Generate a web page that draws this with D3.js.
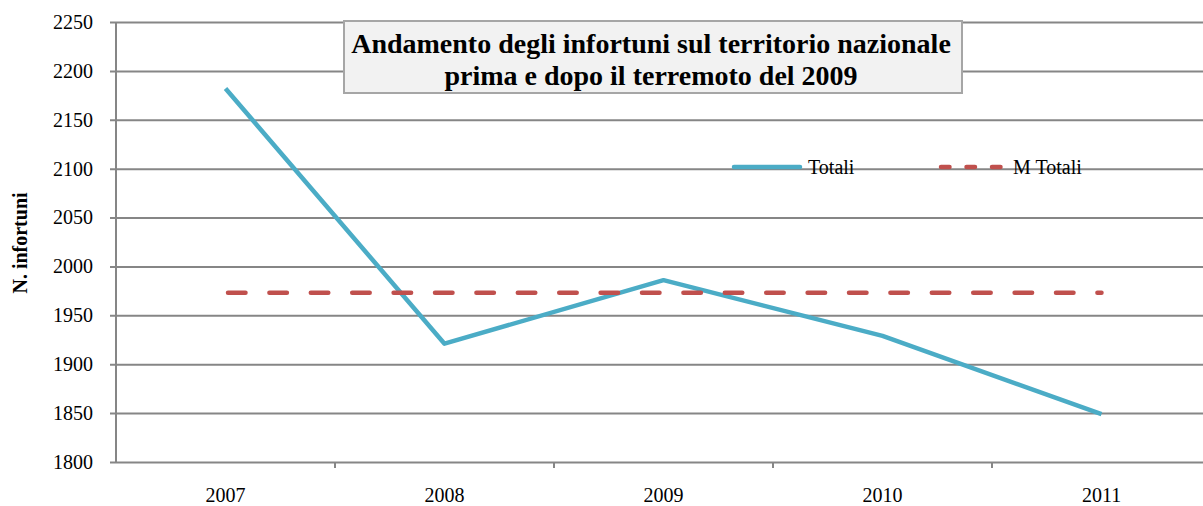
<!DOCTYPE html>
<html><head><meta charset="utf-8">
<script src="https://cdn.jsdelivr.net/npm/d3@7"></script>
<style>body{margin:0;background:#fff}svg{display:block}</style>
</head><body>
<svg id="c" width="1203" height="506"></svg>
<script>
const years = ["2007","2008","2009","2010","2011"];
const totali = [2182, 1921, 1986, 1929, 1849];
const mTotali = [1973, 1973, 1973, 1973, 1973];
const yTicks = [1800,1850,1900,1950,2000,2050,2100,2150,2200,2250];
const titleLines = ["Andamento degli infortuni sul territorio nazionale","prima e dopo il terremoto del 2009"];
const yLabel = "N. infortuni";
const legendNames = ["Totali","M Totali"];

const svg = d3.select("#c");
const L=116, R=1211, T=22, B=462;
const font = "'Liberation Serif','Times New Roman',serif";
const fs = 20;
const x = d3.scaleBand().domain(years).range([L,R]);
const y = d3.scaleLinear().domain([1800,2250]).range([B,T]);
const grid="#868686";

// gridlines + y axis
const ya = svg.append("g").attr("transform",`translate(${L},0)`)
  .call(d3.axisLeft(y).tickValues(yTicks).tickSize(6).tickPadding(17).tickFormat(d3.format("d")));
ya.select(".domain").attr("stroke",grid).attr("stroke-width",2).attr("d",`M0,${T}V${B}`);
ya.selectAll(".tick line").attr("stroke",grid).attr("stroke-width",2).attr("x1",-6).attr("x2",1203-L);
ya.selectAll(".tick text").attr("font-family",font).attr("font-size",fs).attr("fill","#000");

// x axis
const xa = svg.append("g").attr("transform",`translate(0,${B})`)
  .call(d3.axisBottom(x).tickSize(0).tickPadding(26));
xa.select(".domain").remove();
xa.selectAll(".tick text").attr("font-family",font).attr("font-size",fs).attr("fill","#000");
svg.append("g").selectAll("line").data(years.slice(1)).join("line")
  .attr("x1",d=>x(d)).attr("x2",d=>x(d)).attr("y1",B).attr("y2",B+6)
  .attr("stroke",grid).attr("stroke-width",2);

// y title
svg.append("text").attr("transform",`translate(27,${(T+B)/2+1}) rotate(-90)`)
  .attr("text-anchor","middle").attr("font-family",font).attr("font-weight","bold")
  .attr("font-size",20).text(yLabel);

const cx = d=>x(d)+x.bandwidth()/2;
const line = d3.line().x(d=>cx(d.k)).y(d=>y(d.v));
svg.append("path").datum(years.map((k,i)=>({k,v:totali[i]})))
  .attr("d",line).attr("fill","none").attr("stroke","#4BACC6").attr("stroke-width",4.5)
  .attr("stroke-linejoin","round");
svg.append("path").datum(years.map((k,i)=>({k,v:mTotali[i]})))
  .attr("d",line).attr("fill","none").attr("stroke","#C0504D").attr("stroke-width",4.5)
  .attr("stroke-linecap","round").attr("stroke-dasharray","17.5,23.9").attr("stroke-dashoffset",-2.5);

// legend
const lg = svg.append("g");
lg.append("line").attr("x1",734).attr("x2",800).attr("y1",167).attr("y2",167)
  .attr("stroke","#4BACC6").attr("stroke-width",4.5).attr("stroke-linecap","round");
lg.append("text").attr("x",808).attr("y",174).attr("font-family",font).attr("font-size",fs).text(legendNames[0]);
lg.append("line").attr("x1",941).attr("x2",1002).attr("y1",167).attr("y2",167)
  .attr("stroke","#C0504D").attr("stroke-width",4.5).attr("stroke-dasharray","8.5,17").attr("stroke-linecap","round");
lg.append("text").attr("x",1013).attr("y",174).attr("font-family",font).attr("font-size",fs).text(legendNames[1]);

// title box
svg.append("rect").attr("x",344).attr("y",21).attr("width",618).attr("height",72)
  .attr("fill","#F2F2F2").attr("stroke","#A6A6A6").attr("stroke-width",2);
svg.append("g").selectAll("text").data(titleLines).join("text")
  .attr("x",651).attr("y",(d,i)=>53+i*32).attr("text-anchor","middle")
  .attr("font-family",font).attr("font-weight","bold").attr("font-size",28).text(d=>d);
</script>
</body></html>
